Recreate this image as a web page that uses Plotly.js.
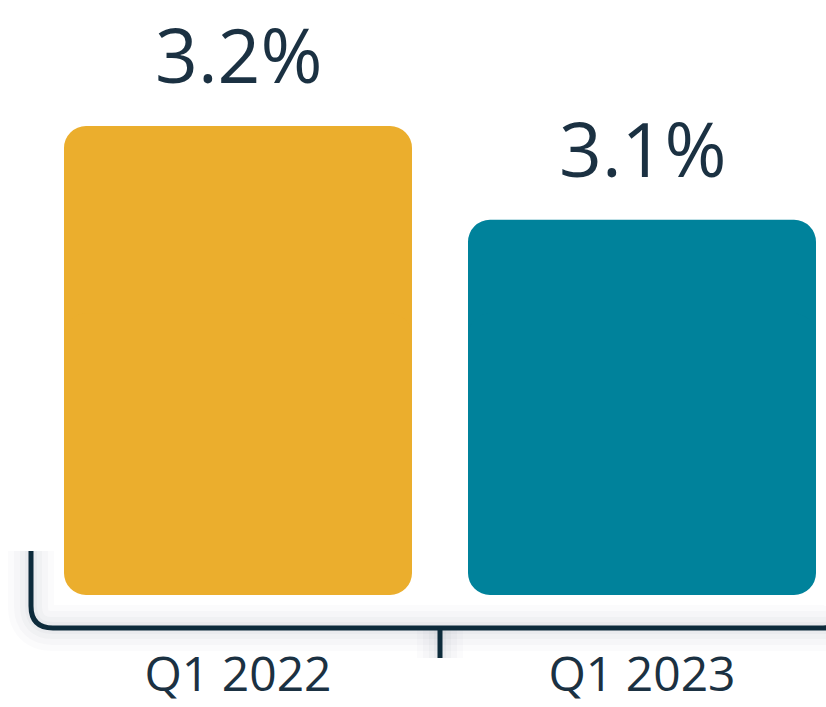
<!DOCTYPE html>
<html>
<head>
<meta charset="utf-8">
<script src="https://cdn.plot.ly/plotly-3.0.1.min.js"></script>
<style>html,body{margin:0;padding:0;background:#fff;}#chart{width:826px;height:707px;}</style>
</head>
<body>
<div id="chart"></div>
<script>
// ---- data ----
const categories = ['Q1 2022', 'Q1 2023'];
const values = [3.2, 3.1];
const valueLabels = ['3.2%', '3.1%'];
const barColors = ['#EBAE2D', '#00829B'];
const baseline = 2.7;

// ---- styling ----
const textColor = '#1B3142';
const bracketColor = '#0D2B3B';
const fontFamily = '"Open Sans", "Noto Sans", sans-serif';
const W = 826, H = 707, B = 79;
const plotH = H - B;
const pxPerCat = 404;
const xr0 = -238 / pxPerCat;
const xr1 = xr0 + W / pxPerCat;
const barWidth = 348 / pxPerCat;
const mid = (baseline + Math.min(...values)) / 2;
const overlap = 0.1;

// rounded upper part (tip at value) and rounded lower part (tip at baseline), overlapping
const upper = {
  type: 'bar', x: categories, y: values.map(v => v - mid), base: mid,
  width: barWidth, marker: {color: barColors, cornerradius: 22, line: {width: 0}},
  hoverinfo: 'skip', showlegend: false
};
const lower = {
  type: 'bar', x: categories, y: values.map(() => baseline - (mid + overlap)), base: mid + overlap,
  width: barWidth, marker: {color: barColors, cornerradius: 22, line: {width: 0}},
  hoverinfo: 'skip', showlegend: false
};

const px = p => p / W;            // pixel x -> paper x
const py = p => 1 - p / plotH;    // pixel y -> paper y
const bracketPath = 'M ' + px(31) + ' ' + py(551) +
  ' L ' + px(31) + ' ' + py(606) +
  ' Q ' + px(31) + ' 0 ' + px(53) + ' 0' +
  ' L ' + px(823) + ' 0' +
  ' Q ' + px(845) + ' 0 ' + px(845) + ' ' + py(606);

const shapes = [];
[[46, 0.025], [34, 0.03], [22, 0.035], [12, 0.04]].forEach(([w, a]) => {
  shapes.push({type: 'path', xref: 'paper', yref: 'paper', path: bracketPath, layer: 'below',
    line: {color: 'rgba(90,105,120,' + a + ')', width: w}});
  shapes.push({type: 'line', xref: 'x', yref: 'paper', x0: 0.5, x1: 0.5, y0: 0, y1: -30 / plotH, layer: 'below',
    line: {color: 'rgba(90,105,120,' + a + ')', width: w}});
});
shapes.push({type: 'path', xref: 'paper', yref: 'paper', path: bracketPath,
  line: {color: bracketColor, width: 5}});
shapes.push({type: 'line', xref: 'x', yref: 'paper', x0: 0.5, x1: 0.5, y0: 0, y1: -30 / plotH,
  line: {color: bracketColor, width: 5}});

const annotations = categories.map((c, i) => ({
  x: c, y: values[i], xref: 'x', yref: 'y', text: valueLabels[i], showarrow: false,
  yanchor: 'middle', yshift: 72, font: {family: fontFamily, size: 75, color: textColor}
}));

const pxPerUnit = 938;
const yTop = baseline + 595 / pxPerUnit;
const yBot = baseline - 33 / pxPerUnit;

const layout = {
  width: W, height: H,
  margin: {l: 0, r: 0, t: 0, b: B, pad: 0},
  paper_bgcolor: '#ffffff', plot_bgcolor: 'rgba(0,0,0,0)',
  barmode: 'overlay',
  xaxis: {type: 'category', range: [xr0, xr1], showgrid: false, zeroline: false, showline: false,
    ticks: '', tickfont: {family: fontFamily, size: 48, color: textColor}, ticklabelstandoff: 14,
    fixedrange: true},
  yaxis: {range: [yBot, yTop], visible: false, showgrid: false, zeroline: false, fixedrange: true},
  shapes: shapes,
  annotations: annotations,
  showlegend: false
};

Plotly.newPlot('chart', [upper, lower], layout, {staticPlot: true, displayModeBar: false});
</script>
</body>
</html>
